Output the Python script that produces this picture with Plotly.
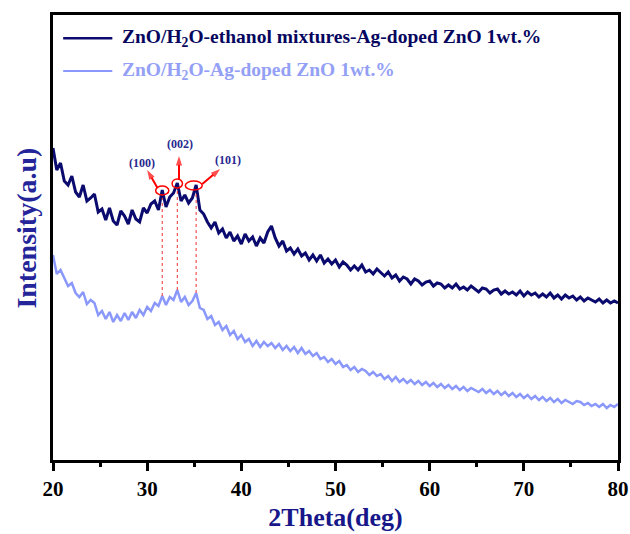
import plotly.graph_objects as go

# 2Theta grid (deg), 0.4 deg step from 20 to 80
two_theta = [round(20 + 0.4 * k, 1) for k in range(151)]

# ZnO/H2O-ethanol mixtures-Ag-doped ZnO 1wt.% (a.u.)
dark_intensity = [
    312, 290, 297, 279, 275,
    284, 268, 263, 275, 259,
    262, 266, 248, 251, 240,
    252, 239, 235, 249, 244,
    236, 250, 241, 238, 252,
    247, 256, 259, 250, 270,
    253, 263, 267, 277, 259,
    265, 257, 262, 275, 250,
    246, 238, 232, 238, 227,
    231, 222, 228, 219, 224,
    216, 226, 219, 223, 214,
    222, 217, 228, 234, 222,
    214, 219, 209, 212, 206,
    211, 204, 207, 200, 205,
    199, 205, 197, 201, 196,
    200, 193, 198, 195, 190,
    194, 190, 195, 188, 190,
    186, 191, 187, 184, 188,
    182, 185, 179, 183, 181,
    176, 181, 179, 175, 178,
    179, 174, 177, 176, 172,
    175, 172, 176, 171, 173,
    170, 174, 171, 168, 172,
    171, 167, 170, 171, 166,
    169, 166, 168, 165, 169,
    164, 168, 165, 167, 163,
    166, 163, 167, 162, 165,
    161, 165, 162, 164, 160,
    163, 159, 162, 160, 158,
    161, 157, 160, 157, 159,
    157,
]

# ZnO/H2O-Ag-doped ZnO 1wt.% (a.u.)
light_intensity = [
    205, 186, 190, 182, 174,
    177, 167, 163, 168, 156,
    160, 157, 145, 149, 141,
    148, 138, 145, 139, 147,
    140, 148, 142, 150, 145,
    153, 149, 157, 154, 164,
    155, 163, 160, 170, 158,
    163, 155, 159, 167, 152,
    150, 141, 144, 135, 138,
    130, 134, 125, 129, 121,
    125, 118, 121, 114, 119,
    113, 118, 114, 117, 112,
    116, 110, 114, 109, 113,
    107, 112, 106, 109, 104,
    107, 101, 103, 98, 101,
    96, 99, 93, 95, 90,
    93, 88, 91, 89, 85,
    88, 84, 86, 81, 84,
    79, 83, 78, 81, 77,
    80, 76, 79, 75, 78,
    74, 77, 73, 76, 72,
    75, 71, 74, 70, 73,
    69, 72, 70, 68, 71,
    67, 70, 66, 69, 65,
    68, 64, 67, 63, 66,
    62, 65, 61, 64, 60,
    63, 59, 62, 58, 61,
    57, 60, 58, 56, 59,
    58, 55, 57, 54, 56,
    53, 56, 52, 55, 53,
    56,
]

# Peak indexing
peak_labels = ["(100)", "(002)", "(101)"]
peak_positions = [31.6, 33.2, 35.2]

series_names = [
    "ZnO/H<sub>2</sub>O-ethanol mixtures-Ag-doped ZnO 1wt.%",
    "ZnO/H<sub>2</sub>O-Ag-doped ZnO 1wt.%",
]
x_ticks = [20, 30, 40, 50, 60, 70, 80]

DARK = "#0b0b6f"
LIGHT = "#8a98fb"
SERIF = "Liberation Serif, Times New Roman, serif"

fig = go.Figure()
fig.add_trace(go.Scatter(x=two_theta, y=dark_intensity, mode="lines",
                         line=dict(color=DARK, width=3), name=series_names[0],
                         showlegend=False))
fig.add_trace(go.Scatter(x=two_theta, y=light_intensity, mode="lines",
                         line=dict(color=LIGHT, width=2.5), name=series_names[1],
                         showlegend=False))


def val_at(arr, x):
    return arr[two_theta.index(x)]


# red dotted guide lines, ellipses, arrows and labels
ell_w = [0.7, 0.55, 0.9]
ell_dx = [0.0, 0.0, -0.25]
label_off = [(-2.15, 27), (0.28, 39), (3.38, 25)]
tip_off = [(-1.6, 20), (0.18, 27), (2.55, 16)]
tail_off = [(-0.5, 2), (0.18, 3), (0.65, 1)]
for i, (lab, px) in enumerate(zip(peak_labels, peak_positions)):
    yd = val_at(dark_intensity, px)
    yl = val_at(light_intensity, px)
    fig.add_shape(type="line", x0=px, x1=px, y0=yl, y1=yd - 8,
                  line=dict(color="#f03030", width=1, dash="dot"))
    cx = px + ell_dx[i]
    fig.add_shape(type="circle", x0=cx - ell_w[i], x1=cx + ell_w[i],
                  y0=yd - 5, y1=yd + 4, line=dict(color="red", width=1.5))
    # arrow: line from ellipse towards label with an arrow-head marker
    fig.add_trace(go.Scatter(
        x=[px + tail_off[i][0], px + tip_off[i][0]],
        y=[yd + tail_off[i][1], yd + tip_off[i][1]],
        mode="lines+markers", showlegend=False, hoverinfo="skip",
        line=dict(color="red", width=2),
        marker=dict(symbol="arrow", size=[0, 10], angleref="previous",
                    color="red", line=dict(width=0)),
    ))
    fig.add_annotation(x=px + label_off[i][0], y=yd + label_off[i][1],
                       xref="x", yref="y", showarrow=False,
                       text=f"<b>{lab}</b>",
                       font=dict(family=SERIF, size=12, color="#27278f"))

# Legend drawn manually (two colours of text)
leg_y = [0.948, 0.874]
leg_col_line = [DARK, LIGHT]
leg_col_text = ["#06065e", "#93a0f5"]
for i in range(2):
    fig.add_shape(type="line", xref="paper", yref="paper",
                  x0=0.018, x1=0.105, y0=leg_y[i], y1=leg_y[i],
                  line=dict(color=leg_col_line[i], width=2.5 if i == 0 else 2))
    fig.add_annotation(xref="paper", yref="paper", x=0.118, y=leg_y[i],
                       xanchor="left", yanchor="middle", showarrow=False,
                       text=f"<b>{series_names[i]}</b>",
                       font=dict(family=SERIF, size=19.5, color=leg_col_text[i]))

# Y-axis title placed as a rotated annotation (sits above plot centre)
fig.add_annotation(xref="paper", yref="paper", x=-0.046, y=0.52,
                   xanchor="center", yanchor="middle", textangle=-90,
                   showarrow=False, text="<b>Intensity(a.u)</b>",
                   font=dict(family=SERIF, size=28, color="#25259a"))

fig.update_layout(
    width=630, height=534,
    margin=dict(l=53, r=12, t=15, b=74),
    paper_bgcolor="white", plot_bgcolor="white",
    showlegend=False,
)
fig.update_xaxes(
    range=[20, 80], tickvals=x_ticks, ticktext=[str(t) for t in x_ticks],
    automargin=False,
    showgrid=False, zeroline=False,
    showline=True, mirror=True, linecolor="black", linewidth=3,
    ticks="outside", ticklen=8, tickwidth=2.5, tickcolor="black",
    minor=dict(dtick=5, tick0=20, ticks="outside", ticklen=4, tickwidth=2.5,
               tickcolor="black", showgrid=False),
    tickfont=dict(family=SERIF, size=21, color="black", weight="bold"),
    title=dict(text="<b>2Theta(deg)</b>", standoff=8,
               font=dict(family=SERIF, size=26, color="#17178a")),
)
fig.update_yaxes(
    range=[0, 445], showticklabels=False, ticks="", automargin=False,
    showgrid=False, zeroline=False,
    showline=True, mirror=True, linecolor="black", linewidth=3,
)

fig.write_html("out.html")
